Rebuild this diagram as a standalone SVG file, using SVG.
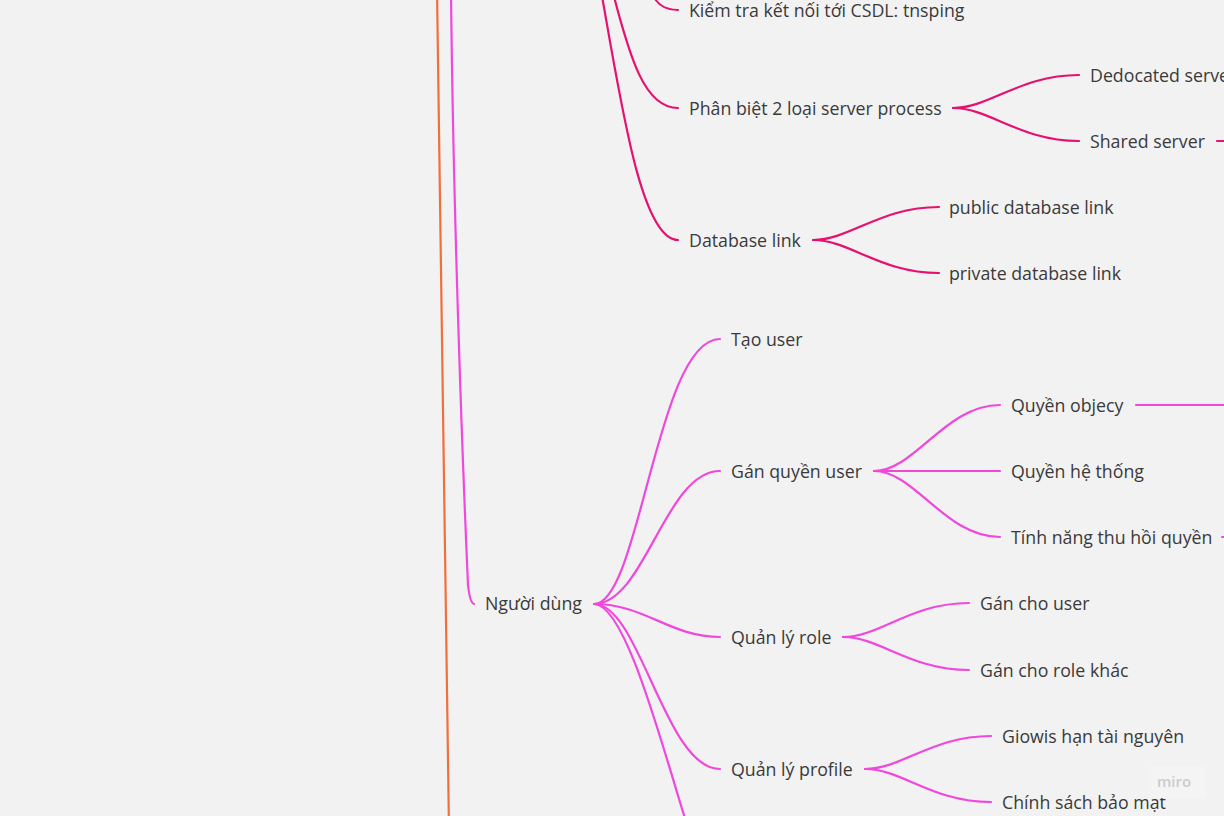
<svg xmlns="http://www.w3.org/2000/svg" width="1224" height="816" viewBox="0 0 1224 816">
<style>
.t{font-family:"Open Sans","Noto Sans","Liberation Sans",sans-serif;font-size:17.75px;fill:#3a3a3a}
.c{fill:none;stroke-width:2.2;stroke-linecap:round}
.dp{stroke:#e8106e}
.pk{stroke:#f048dc}
.or{stroke:#f0703c}
.wm{font-family:"Open Sans","Noto Sans","Liberation Sans",sans-serif;font-size:15px;font-weight:600;fill:#cbcbcb}
</style>
<rect width="1224" height="816" fill="#f2f2f2"/>
<g id="connectors">
<path class="c or" d="M437,-10 C440,300 446,600 449,830"/>
<path class="c pk" stroke-width="1.6" d="M451,-10 C453,200 462,450 468,585 Q470,603 474,604"/>
<path class="c dp" d="M650,-12 C655,5 665,10 678,10"/>
<path class="c dp" d="M611,-15 C630,60 645,108 678,108"/>
<path class="c dp" d="M600,-15 C620,95 640,240 678,240"/>
<path class="c dp" d="M953,108 C990,108 1020,75 1079,75"/>
<path class="c dp" d="M953,108 C990,108 1020,141 1079,141"/>
<path class="c dp" d="M1217,141 L1226,141"/>
<path class="c dp" d="M813,240 C850,240 880,207 939,207"/>
<path class="c dp" d="M813,240 C850,240 880,273 939,273"/>
<path class="c pk" d="M594,604 C640,604 657,339 720,339"/>
<path class="c pk" d="M594,604 C645,604 665,471 720,471"/>
<path class="c pk" d="M594,604 C645,604 670,637 720,637"/>
<path class="c pk" d="M594,604 C640,604 665,769 720,769"/>
<path class="c pk" d="M594,604 C640,604 695,900 720,900"/>
<path class="c pk" d="M874,471 C915,471 945,405 1000,405"/>
<path class="c pk" d="M874,471 L1000,471"/>
<path class="c pk" d="M874,471 C915,471 945,537 1000,537"/>
<path class="c pk" d="M1136,405 L1226,405"/>
<path class="c pk" d="M1222,537 L1226,537"/>
<path class="c pk" d="M843,637 C880,637 910,603 969,603"/>
<path class="c pk" d="M843,637 C880,637 910,670 969,670"/>
<path class="c pk" d="M865,769 C902,769 932,736 991,736"/>
<path class="c pk" d="M865,769 C902,769 932,802 991,802"/>
</g>
<g id="n-kiemtra"><text class="t" x="689" y="17">Kiểm tra kết nối tới CSDL: tnsping</text></g>
<g id="n-phanbiet"><text class="t" x="689" y="115">Phân biệt 2 loại server process</text></g>
<g id="n-dedicated"><text class="t" x="1090" y="82">Dedocated server</text></g>
<g id="n-shared"><text class="t" x="1090" y="148">Shared server</text></g>
<g id="n-dblink"><text class="t" x="689" y="247">Database link</text></g>
<g id="n-public"><text class="t" x="949" y="214">public database link</text></g>
<g id="n-private"><text class="t" x="949" y="280">private database link</text></g>
<g id="n-nguoidung"><text class="t" x="485" y="610">Người dùng</text></g>
<g id="n-taouser"><text class="t" x="731" y="346">Tạo user</text></g>
<g id="n-ganquyen"><text class="t" x="731" y="478">Gán quyền user</text></g>
<g id="n-objecy"><text class="t" x="1011" y="412">Quyền objecy</text></g>
<g id="n-hethong"><text class="t" x="1011" y="478">Quyền hệ thống</text></g>
<g id="n-thuhoi"><text class="t" x="1011" y="544">Tính năng thu hồi quyền</text></g>
<g id="n-role"><text class="t" x="731" y="644">Quản lý role</text></g>
<g id="n-ganuser"><text class="t" x="980" y="610">Gán cho user</text></g>
<g id="n-ganrole"><text class="t" x="980" y="677">Gán cho role khác</text></g>
<g id="n-profile"><text class="t" x="731" y="776">Quản lý profile</text></g>
<g id="n-tainguyen"><text class="t" x="1002" y="743">Giowis hạn tài nguyên</text></g>
<g id="n-baomat"><text class="t" x="1002" y="809">Chính sách bảo mật</text></g>
<g id="watermark">
<rect x="1148" y="766" width="58" height="32" rx="3" fill="#f4f4f4"/>
<text class="wm" x="1157" y="787">miro</text>
</g>
</svg>
